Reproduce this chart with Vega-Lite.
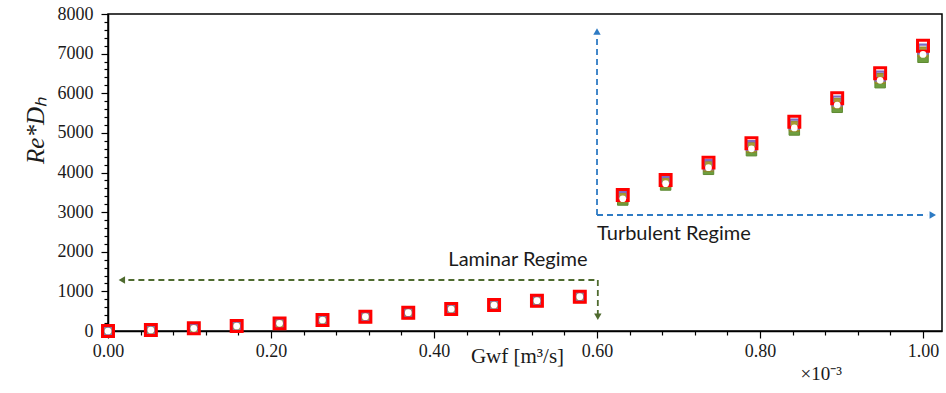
{
  "$schema": "https://vega.github.io/schema/vega-lite/v6.json",
  "autosize": "none",
  "width": 834,
  "height": 317,
  "padding": {"left": 108, "top": 14, "right": 4, "bottom": 62},
  "background": "white",
  "config": {
    "view": {"stroke": "#000000", "strokeWidth": 1.5},
    "axis": {"grid": false, "domainColor": "#000000", "tickColor": "#000000", "domainWidth": 1.5, "tickWidth": 1.2, "labelColor": "#1a1a1a", "titleColor": "#1a1a1a"}
  },
  "title": {"text": "×10⁻³", "orient": "bottom", "anchor": "end", "frame": "group", "dx": -100, "offset": -1, "font": "Liberation Serif", "fontSize": 19, "fontWeight": "normal", "color": "#1a1a1a"},
  "datasets": {
    "pts": [
      {"G": 0.0, "A": 0, "B": 0, "C": 0, "D": 0, "E": 0},
      {"G": 0.0526, "A": 5, "B": 15, "C": 20, "D": 25, "E": 25},
      {"G": 0.1053, "A": 47, "B": 57, "C": 62, "D": 67, "E": 67},
      {"G": 0.1579, "A": 106, "B": 116, "C": 121, "D": 126, "E": 126},
      {"G": 0.2105, "A": 173, "B": 183, "C": 188, "D": 193, "E": 193},
      {"G": 0.2632, "A": 258, "B": 268, "C": 273, "D": 278, "E": 278},
      {"G": 0.3158, "A": 342, "B": 352, "C": 357, "D": 362, "E": 362},
      {"G": 0.3684, "A": 443, "B": 453, "C": 458, "D": 463, "E": 463},
      {"G": 0.4211, "A": 535, "B": 545, "C": 550, "D": 555, "E": 555},
      {"G": 0.4737, "A": 636, "B": 646, "C": 651, "D": 656, "E": 656},
      {"G": 0.5263, "A": 745, "B": 755, "C": 760, "D": 765, "E": 765},
      {"G": 0.5789, "A": 846, "B": 856, "C": 861, "D": 866, "E": 866},
      {"G": 0.6316, "A": 3306, "B": 3363, "C": 3395, "D": 3433, "E": 3338},
      {"G": 0.6842, "A": 3685, "B": 3742, "C": 3773, "D": 3811, "E": 3717},
      {"G": 0.7368, "A": 4081, "B": 4157, "C": 4199, "D": 4249, "E": 4123},
      {"G": 0.7895, "A": 4551, "B": 4635, "C": 4681, "D": 4737, "E": 4597},
      {"G": 0.8421, "A": 5073, "B": 5167, "C": 5220, "D": 5283, "E": 5126},
      {"G": 0.8947, "A": 5646, "B": 5748, "C": 5805, "D": 5873, "E": 5703},
      {"G": 0.9474, "A": 6267, "B": 6374, "C": 6433, "D": 6504, "E": 6326},
      {"G": 1.0, "A": 6908, "B": 7040, "C": 7113, "D": 7201, "E": 6981}
    ],
    "lines": [
      {"id": "lam_h", "x": 0.025, "x2": 0.601, "y": 1287, "y2": 1287, "regime": "lam"},
      {"id": "lam_v", "x": 0.601, "x2": 0.601, "y": 1287, "y2": 420, "regime": "lam"},
      {"id": "tur_h", "x": 0.600, "x2": 1.005, "y": 2928, "y2": 2928, "regime": "tur"},
      {"id": "tur_v", "x": 0.600, "x2": 0.600, "y": 2928, "y2": 7450, "regime": "tur"}
    ],
    "heads": [
      {"x": 0.017, "y": 1287, "dir": "left", "regime": "lam"},
      {"x": 0.601, "y": 360, "dir": "down", "regime": "lam"},
      {"x": 1.012, "y": 2928, "dir": "right", "regime": "tur"},
      {"x": 0.600, "y": 7560, "dir": "up", "regime": "tur"}
    ],
    "labels": [
      {"x": 0.503, "y": 1640, "text": "Laminar Regime", "pos": "center"},
      {"x": 0.600, "y": 2297, "text": "Turbulent Regime", "pos": "left"}
    ]
  },
  "layer": [
    {
      "data": {"name": "lines"},
      "mark": {"type": "rule", "strokeDash": [6, 4], "strokeWidth": 1.8},
      "encoding": {
        "x": {"field": "x", "type": "quantitative", "scale": {"domain": [0, 1.0233], "nice": false, "zero": false},
          "axis": {
            "values": [0, 0.04, 0.08, 0.12, 0.16, 0.2, 0.24, 0.28, 0.32, 0.36, 0.4, 0.44, 0.48, 0.52, 0.56, 0.6, 0.64, 0.68, 0.72, 0.76, 0.8, 0.84, 0.88, 0.92, 0.96, 1.0],
            "tickCount": 100,
            "format": ".2f",
            "labelExpr": "abs(datum.value * 5 - round(datum.value * 5)) < 0.001 ? datum.label : ''",
            "labelOverlap": false, "labelFlush": false, "labelBound": false,
            "tickSize": {"condition": {"test": "abs(datum.value * 5 - round(datum.value * 5)) < 0.001", "value": 7}, "value": 4},
            "labelFont": "Liberation Serif", "labelFontSize": 18, "labelPadding": 4,
            "title": "Gwf  [m³/s]", "titleFont": "Liberation Serif", "titleFontSize": 21, "titleFontWeight": "normal",
            "titleX": 409, "titleY": 25, "titleBaseline": "middle", "titleAlign": "center"
          }},
        "x2": {"field": "x2"},
        "y": {"field": "y", "type": "quantitative", "scale": {"domain": [0, 8000], "nice": false},
          "axis": {
            "values": [0, 200, 400, 600, 800, 1000, 1200, 1400, 1600, 1800, 2000, 2200, 2400, 2600, 2800, 3000, 3200, 3400, 3600, 3800, 4000, 4200, 4400, 4600, 4800, 5000, 5200, 5400, 5600, 5800, 6000, 6200, 6400, 6600, 6800, 7000, 7200, 7400, 7600, 7800, 8000],
            "tickCount": 100,
            "format": "d",
            "labelExpr": "datum.value % 1000 === 0 ? datum.label : ''",
            "labelOverlap": false, "labelBound": false,
            "tickSize": {"condition": {"test": "datum.value % 1000 === 0", "value": 7}, "value": 4},
            "labelFont": "Liberation Serif", "labelFontSize": 18, "labelPadding": 8,
            "title": "Re*Dₕ", "titleFont": "Liberation Serif", "titleFontSize": 25, "titleFontStyle": "italic", "titleFontWeight": "normal",
            "titleX": -73, "titleY": 116, "titleAngle": 270, "titleBaseline": "middle", "titleAlign": "center"
          }},
        "y2": {"field": "y2"},
        "color": {"field": "regime", "type": "nominal", "scale": {"domain": ["lam", "tur"], "range": ["#4F6B2F", "#2E7BC4"]}, "legend": null}
      }
    },
    {
      "data": {"name": "heads"},
      "mark": {"type": "point", "filled": true, "size": 55, "opacity": 1},
      "encoding": {
        "x": {"field": "x", "type": "quantitative"},
        "y": {"field": "y", "type": "quantitative"},
        "shape": {"field": "dir", "type": "nominal", "scale": {"domain": ["left", "down", "right", "up"], "range": ["triangle-left", "triangle-down", "triangle-right", "triangle-up"]}, "legend": null},
        "color": {"field": "regime", "type": "nominal", "legend": null}
      }
    },
    {
      "data": {"name": "labels"},
      "transform": [{"filter": "datum.pos === 'center'"}],
      "mark": {"type": "text", "font": "Lato", "fontSize": 20, "color": "#1a1a1a", "baseline": "alphabetic", "align": "center"},
      "encoding": {
        "x": {"field": "x", "type": "quantitative"},
        "y": {"field": "y", "type": "quantitative"},
        "text": {"field": "text"}
      }
    },
    {
      "data": {"name": "labels"},
      "transform": [{"filter": "datum.pos === 'left'"}],
      "mark": {"type": "text", "font": "Lato", "fontSize": 20, "color": "#1a1a1a", "baseline": "alphabetic", "align": "left"},
      "encoding": {
        "x": {"field": "x", "type": "quantitative"},
        "y": {"field": "y", "type": "quantitative"},
        "text": {"field": "text"}
      }
    },
    {
      "data": {"name": "pts"},
      "mark": {"type": "square", "filled": true, "size": 110, "strokeWidth": 1, "color": "#6E9E3E", "stroke": "#5E8A32", "opacity": 1},
      "encoding": {"x": {"field": "G", "type": "quantitative"}, "y": {"field": "A", "type": "quantitative"}}
    },
    {
      "data": {"name": "pts"},
      "mark": {"type": "square", "filled": true, "size": 100, "strokeWidth": 1, "color": "#A89A33", "stroke": "#8F8428", "opacity": 1},
      "encoding": {"x": {"field": "G", "type": "quantitative"}, "y": {"field": "B", "type": "quantitative"}}
    },
    {
      "data": {"name": "pts"},
      "mark": {"type": "square", "filled": false, "size": 80, "strokeWidth": 2.2, "color": "#7E6CC2", "opacity": 1},
      "encoding": {"x": {"field": "G", "type": "quantitative"}, "y": {"field": "C", "type": "quantitative"}}
    },
    {
      "data": {"name": "pts"},
      "mark": {"type": "square", "filled": false, "size": 120, "strokeWidth": 3, "color": "#FF0000", "opacity": 1},
      "encoding": {"x": {"field": "G", "type": "quantitative"}, "y": {"field": "D", "type": "quantitative"}}
    },
    {
      "data": {"name": "pts"},
      "mark": {"type": "circle", "size": 45, "color": "#FFFFFF", "opacity": 1},
      "encoding": {"x": {"field": "G", "type": "quantitative"}, "y": {"field": "E", "type": "quantitative"}}
    }
  ]
}
